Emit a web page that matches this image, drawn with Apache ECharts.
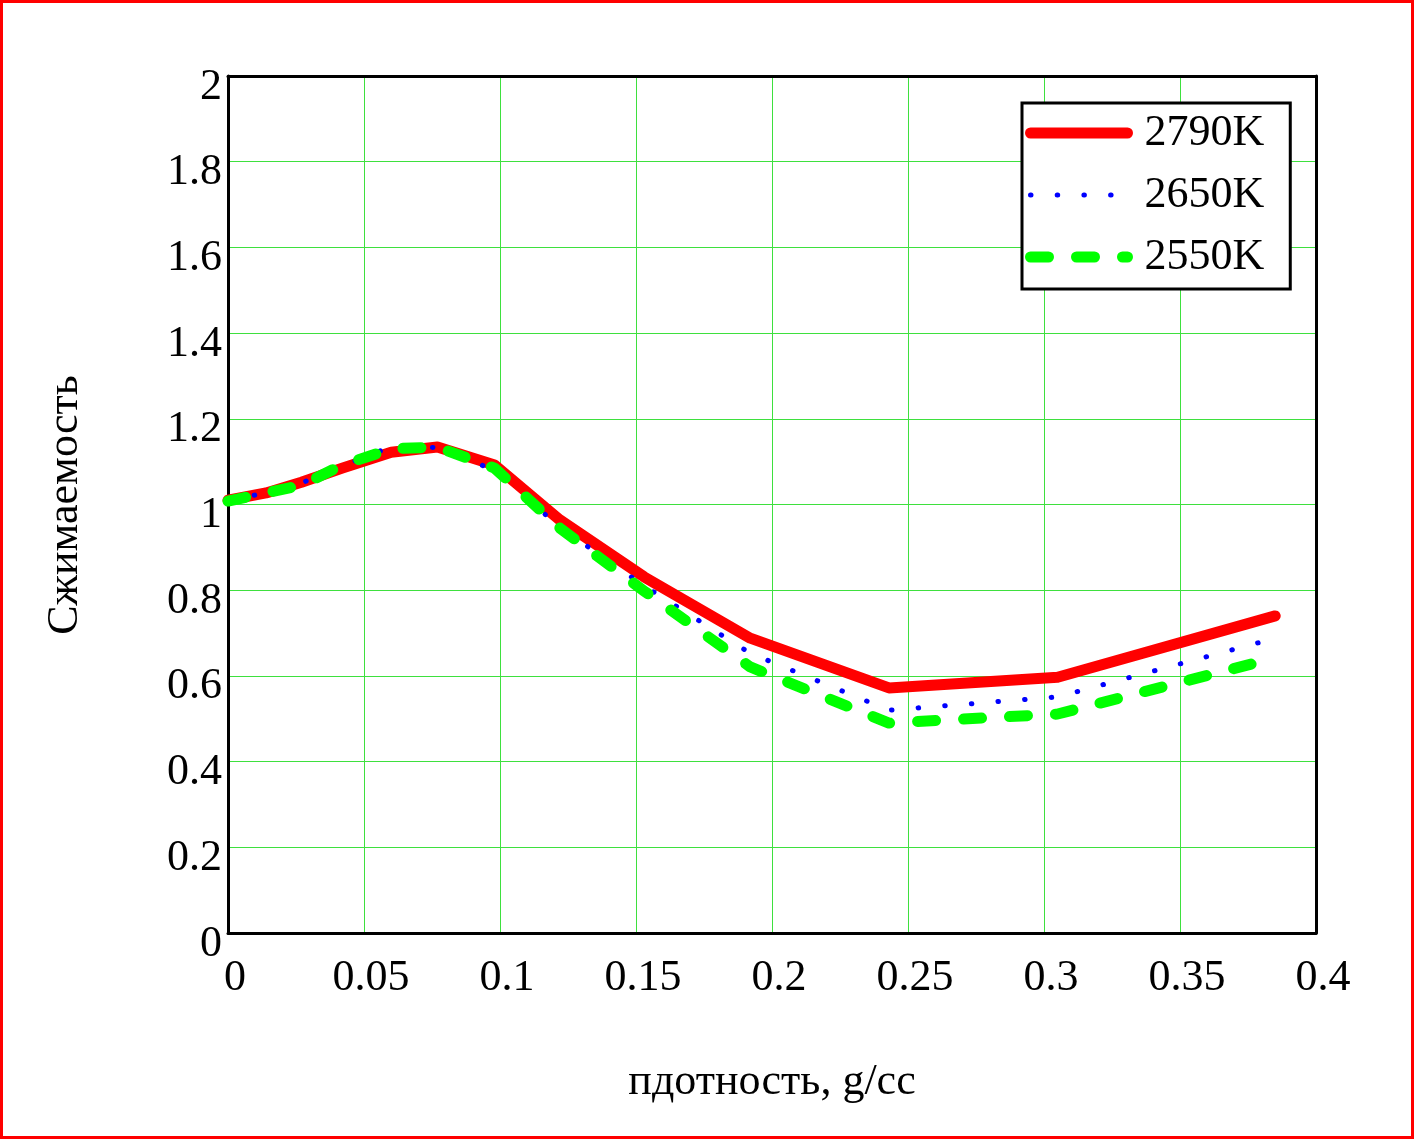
<!DOCTYPE html>
<html><head><meta charset="utf-8">
<script src="https://cdn.jsdelivr.net/npm/echarts@6/dist/echarts.min.js"></script>
<style>html,body{margin:0;padding:0;background:#fff}#c{width:1414px;height:1139px}</style>
</head><body><div id="c"></div>
<script>
const density = [0, 0.014, 0.027, 0.042, 0.06, 0.077, 0.098, 0.122, 0.153, 0.192, 0.243, 0.305, 0.385];
const z2790 = [1.01, 1.027, 1.052, 1.085, 1.122, 1.134, 1.092, 0.964, 0.831, 0.688, 0.572, 0.597, 0.740];
const z2650 = [1.01, 1.027, 1.05, 1.09, 1.135, 1.133, 1.08, 0.947, 0.81, 0.653, 0.52, 0.551, 0.688];
const z2550 = [1.008, 1.027, 1.045, 1.092, 1.13, 1.134, 1.085, 0.945, 0.798, 0.621, 0.49, 0.511, 0.642];
const seriesNames = ['2790K', '2650K', '2550K'];
const xTitle = 'пдотность, g/cc';
const yTitle = 'Сжимаемость';

const FONT = '"Liberation Serif", "Times New Roman", serif';
const pairs = arr => density.map((x, i) => [x, arr[i]]);
const frameLine = {show: true, onZero: false, lineStyle: {color: '#000', width: 3}};
const chart = echarts.init(document.getElementById('c'), null, {renderer: 'canvas'});
chart.setOption({
  animation: false,
  backgroundColor: '#fff',
  grid: {left: 228, top: 76, right: 98, bottom: 206},
  xAxis: [{
    type: 'value', min: 0, max: 0.4, interval: 0.05, position: 'bottom',
    axisLine: frameLine, axisTick: {show: false},
    splitLine: {show: true, lineStyle: {color: '#3ee03e', width: 1}},
    axisLabel: {fontFamily: FONT, fontSize: 44, color: '#000', margin: 23, padding: [0, 0, 0, 14],
      formatter: v => String(+v.toFixed(2))}
  }, {
    type: 'value', min: 0, max: 0.4, interval: 0.05, position: 'top',
    axisLine: frameLine, axisTick: {show: false}, axisLabel: {show: false}, splitLine: {show: false}
  }],
  yAxis: [{
    type: 'value', min: 0, max: 2, interval: 0.2, position: 'left',
    axisLine: frameLine, axisTick: {show: false},
    splitLine: {show: true, lineStyle: {color: '#3ee03e', width: 1}},
    axisLabel: {fontFamily: FONT, fontSize: 44, color: '#000', margin: 6, verticalAlign: 'top', lineHeight: 22,
      formatter: v => String(+v.toFixed(1))}
  }, {
    type: 'value', min: 0, max: 2, interval: 0.2, position: 'right',
    axisLine: frameLine, axisTick: {show: false}, axisLabel: {show: false}, splitLine: {show: false}
  }],
  legend: {
    orient: 'vertical', left: 1022, top: 103,
    backgroundColor: '#fff', borderColor: '#000', borderWidth: 3,
    padding: [8, 26, 10, 3], itemGap: 18, itemWidth: 97, itemHeight: 30,
    itemStyle: {color: 'rgba(0,0,0,0)', borderWidth: 0, opacity: 0},
    lineStyle: {width: 'inherit', type: 'inherit', cap: 'round'},
    textStyle: {fontFamily: FONT, fontSize: 44, color: '#000', lineHeight: 44, padding: [0, 0, 0, 12]},
    data: seriesNames
  },
  series: [
    {name: seriesNames[0], type: 'line', data: pairs(z2790), symbol: 'none', z: 2,
      lineStyle: {color: '#ff0000', width: 11, cap: 'round', join: 'round'}, itemStyle: {color: '#ff0000'}},
    {name: seriesNames[1], type: 'line', data: pairs(z2650), symbol: 'none', z: 3,
      lineStyle: {color: '#0000ff', width: 5, type: [0.5, 26.2], cap: 'round'}, itemStyle: {color: '#0000ff'}},
    {name: seriesNames[2], type: 'line', data: pairs(z2550), symbol: 'none', z: 4,
      lineStyle: {color: '#00ff00', width: 11, type: [18, 28], cap: 'round', join: 'round'}, itemStyle: {color: '#00ff00'}}
  ],
  graphic: [
    {type: 'rect', shape: {x: 1.5, y: 1.5, width: 1411, height: 1136}, style: {fill: 'none', stroke: '#ff0000', lineWidth: 3}, silent: true},
    {type: 'text', x: 772, y: 1082, style: {text: xTitle, font: '44px ' + FONT, fill: '#000', textAlign: 'center', textVerticalAlign: 'middle'}},
    {type: 'text', x: 65, y: 505, rotation: Math.PI / 2, style: {text: yTitle, font: '44px ' + FONT, fill: '#000', textAlign: 'center', textVerticalAlign: 'middle'}}
  ]
});
</script></body></html>
